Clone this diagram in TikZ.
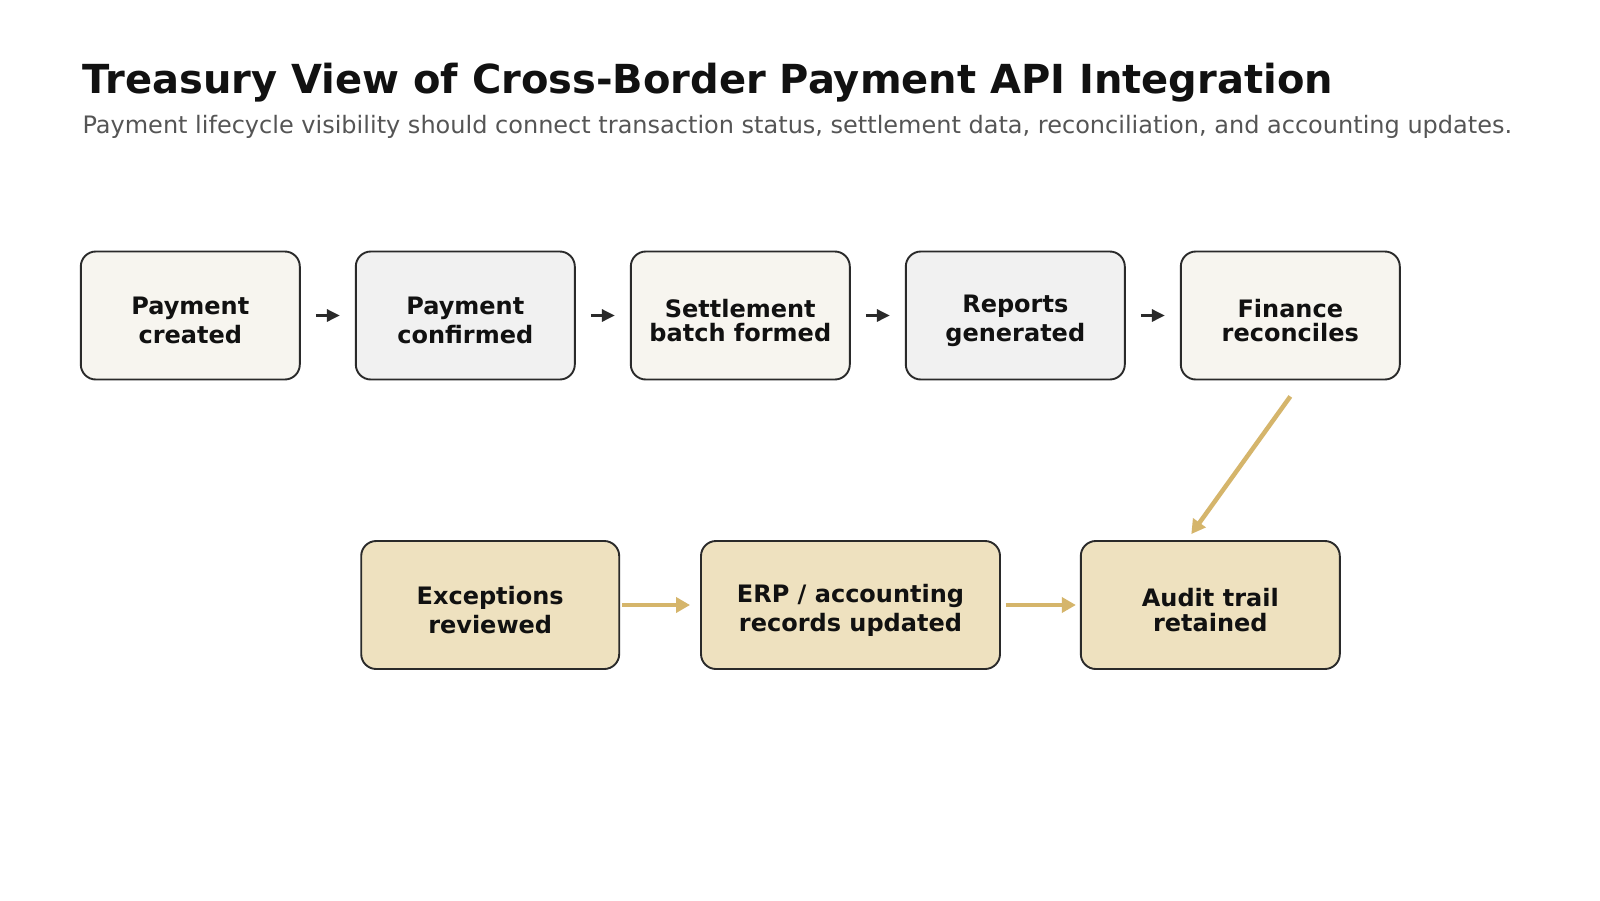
\documentclass[tikz,border=0pt]{standalone}
\usepackage{fontspec}
\setmainfont{DejaVu Sans}
\usetikzlibrary{arrows.meta}
\definecolor{ink}{HTML}{111111}
\definecolor{subink}{HTML}{555555}
\definecolor{edge}{HTML}{2A2A2A}
\definecolor{cream}{HTML}{F7F5EF}
\definecolor{pale}{HTML}{F1F1F1}
\definecolor{tan}{HTML}{EEE1BF}
\definecolor{gold}{HTML}{D5B56B}

\begin{document}
\begin{tikzpicture}[x=1pt,y=-1pt]
\tikzstyle{stage}=[draw=edge,line width=1.9pt,rounded corners=15pt,minimum height=128pt];
\tikzstyle{stagetext}=[align=center,text=ink,yshift=-5pt,font=\fontsize{24}{29}\selectfont\bfseries];
\tikzstyle{tighttext}=[stagetext,font=\fontsize{24}{24.5}\selectfont\bfseries];
\tikzstyle{flow}=[draw=edge,line width=3pt,-{Triangle[length=13pt,width=12pt]}];
\tikzstyle{goldflow}=[draw=gold,line width=4.5pt,-{Triangle[length=14pt,width=15pt]}];

\useasboundingbox[fill=white] (0,0) rectangle (1600,900);

\node[anchor=base west,text=ink,font=\fontsize{40}{46}\selectfont\bfseries] (title) at (79,93)
  {Treasury View of Cross-Border Payment API Integration};
\node[anchor=base west,text=subink,font=\fontsize{24}{28}\selectfont] (subtitle) at (79,133)
  {Payment lifecycle visibility should connect transaction status, settlement data, reconciliation, and accounting updates.};

% lifecycle row
\node[stage,fill=cream,minimum width=219pt,label={[stagetext]center:Payment\\created}] (created) at (190.3,315.5) {};
\node[stage,fill=pale,minimum width=219pt,label={[stagetext]center:Payment\\confirmed}] (confirmed) at (465.3,315.5) {};
\node[stage,fill=cream,minimum width=219pt,label={[tighttext]center:Settlement\\batch formed}] (batch) at (740.3,315.5) {};
\node[stage,fill=pale,minimum width=219pt,label={[stagetext]center:Reports\\generated}] (reports) at (1015.3,315.5) {};
\node[stage,fill=cream,minimum width=219pt,label={[tighttext]center:Finance\\reconciles}] (finance) at (1290.3,315.5) {};

% follow-up row
\node[stage,fill=tan,minimum width=258pt,label={[stagetext]center:Exceptions\\reviewed}] (exceptions) at (490.2,605) {};
\node[stage,fill=tan,minimum width=299pt,label={[stagetext]center:ERP / accounting\\records updated}] (erp) at (850.5,605) {};
\node[stage,fill=tan,minimum width=259pt,label={[tighttext]center:Audit trail\\retained}] (audit) at (1210.3,605) {};

\foreach \a/\b in {created/confirmed,confirmed/batch,batch/reports,reports/finance}
  \draw[flow] ([xshift=15pt]\a.east) -- ([xshift=-15pt]\b.west);

\draw[goldflow] ([xshift=2pt]exceptions.east) -- ([xshift=-10pt]erp.west);
\draw[goldflow] ([xshift=5pt]erp.east) -- ([xshift=-4pt]audit.west);
\coordinate (drop) at ([xshift=-19pt,yshift=6pt]audit.north);
\draw[goldflow] ([yshift=-16pt]finance.south) -- (drop);

\end{tikzpicture}
\end{document}
